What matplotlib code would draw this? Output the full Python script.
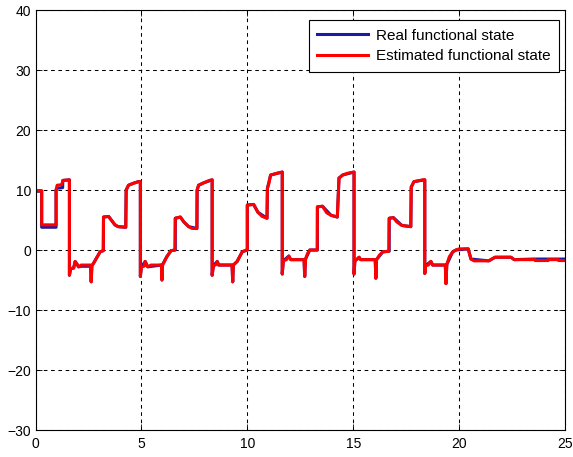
import matplotlib
matplotlib.use('Agg')
import matplotlib.pyplot as plt

plt.close('all')

# estimated functional state (red)
t_est = [0, 0.29, 0.29, 0.97, 0.97, 1.02, 1.24, 1.29, 1.6,
         1.6, 1.66, 1.8, 1.87, 1.95, 2.03, 2.15, 2.6, 2.63, 2.66, 2.74, 2.9, 3.05, 3.2, 3.21, 3.45, 3.6, 3.75, 3.9, 4.26, 4.28, 4.39, 4.6, 4.86, 4.95,
         4.95, 5.0, 5.12, 5.18, 5.25, 5.3, 5.45, 5.95, 5.97, 6.0, 6.05, 6.2, 6.4, 6.58, 6.6, 6.84, 7.0, 7.23, 7.39, 7.62, 7.63, 7.7, 7.94, 8.2, 8.34,
         8.34, 8.4, 8.5, 8.58, 8.65, 9.28, 9.31, 9.34, 9.52, 9.76, 9.95, 10.0, 10.0, 10.3, 10.5, 10.7, 10.93, 10.95, 11.02, 11.1, 11.4, 11.65,
         11.65, 11.7, 11.85, 11.96, 12.05, 12.68, 12.71, 12.75, 12.84, 12.95, 13.3, 13.31, 13.55, 13.75, 13.95, 14.25, 14.33, 14.5, 14.73, 15.04,
         15.04, 15.08, 15.2, 15.28, 15.35, 16.04, 16.07, 16.1, 16.25, 16.4, 16.68, 16.7, 16.9, 17.05, 17.3, 17.72, 17.74, 17.87, 18.28, 18.38,
         18.38, 18.42, 18.55, 18.67, 18.75, 19.35, 19.38, 19.42, 19.54, 19.7, 19.85, 20.0, 20.43, 20.56, 20.7, 21.4, 21.7, 22.45, 22.6, 23.6, 23.6, 24.2, 24.2, 24.7, 24.7, 25]
y_est = [9.9, 9.9, 4.2, 4.2, 10.0, 10.8, 10.9, 11.6, 11.7,
         -4.2, -3.1, -3.0, -1.9, -2.3, -2.8, -2.5, -2.5, -5.3, -2.6, -2.2, -1.2, -0.3, -0.1, 5.5, 5.6, 4.9, 4.2, 3.9, 3.8, 10.0, 10.8, 11.1, 11.4, 11.4,
         -4.4, -2.8, -2.7, -1.9, -2.6, -2.8, -2.5, -2.5, -5.0, -2.4, -2.2, -1.1, -0.1, 0.0, 5.3, 5.5, 4.7, 3.9, 3.6, 3.6, 10.0, 10.8, 11.2, 11.6, 11.7,
         -4.2, -2.6, -2.5, -1.9, -2.5, -2.5, -5.3, -2.5, -1.9, -0.3, 0.0, 0.0, 7.5, 7.6, 6.3, 5.6, 5.3, 10.3, 11.1, 12.5, 12.8, 13.0,
         -4.0, -1.8, -1.6, -1.0, -1.6, -1.6, -4.4, -1.5, -0.6, 0.0, 0.0, 7.2, 7.3, 6.2, 5.8, 5.5, 12.0, 12.5, 12.8, 13.0,
         -4.0, -1.8, -1.5, -1.2, -1.6, -1.6, -4.7, -1.6, -0.8, -0.3, -0.2, 5.3, 5.4, 4.7, 4.1, 3.9, 10.5, 11.4, 11.7, 11.7,
         -3.9, -2.6, -2.5, -1.9, -2.5, -2.5, -5.6, -2.4, -1.1, -0.3, 0.0, 0.2, 0.2, -1.5, -1.8, -1.8, -1.2, -1.2, -1.6, -1.6, -1.75, -1.75, -1.6, -1.6, -1.75, -1.75]

# real functional state (blue), mostly hidden under the red line
t_real = [0, 0.29, 0.29, 0.97, 0.97, 1.0, 1.28, 1.29, 1.6,
          1.6, 1.66, 1.8, 1.87, 1.95, 2.03, 2.15, 2.6, 2.63, 2.66, 2.74, 2.9, 3.05, 3.2, 3.21, 3.45, 3.6, 3.75, 3.9, 4.26, 4.28, 4.39, 4.6, 4.86, 4.95,
          4.95, 5.0, 5.18, 5.3, 5.95, 5.97, 6.0, 6.2, 6.4, 6.6, 6.6, 6.84, 7.0, 7.23, 7.62, 7.63, 7.7, 7.94, 8.34,
          8.34, 8.4, 8.58, 8.65, 9.28, 9.31, 9.34, 9.52, 9.76, 10.0, 10.0, 10.3, 10.5, 10.93, 10.95, 11.1, 11.65,
          11.65, 11.7, 11.96, 12.05, 12.68, 12.71, 12.75, 12.95, 13.31, 13.31, 13.55, 13.95, 14.25, 14.33, 14.5, 15.04,
          15.04, 15.08, 15.28, 15.35, 16.04, 16.07, 16.1, 16.4, 16.7, 16.7, 16.9, 17.3, 17.72, 17.74, 17.87, 18.38,
          18.38, 18.42, 18.67, 18.75, 19.35, 19.38, 19.42, 19.7, 19.85, 20.43, 20.56, 21.4, 21.7, 22.45, 22.6, 23.5, 25]
y_real = [9.8, 9.8, 3.8, 3.8, 10.0, 10.3, 10.4, 11.6, 11.7,
          -4.2, -3.1, -3.0, -1.9, -2.3, -2.8, -2.7, -2.7, -5.3, -2.6, -2.2, -1.2, -0.3, -0.1, 5.5, 5.6, 4.9, 4.2, 3.9, 3.8, 10.0, 10.8, 11.1, 11.4, 11.4,
          -4.4, -2.8, -1.9, -2.8, -2.5, -5.0, -2.4, -1.1, -0.1, 0.0, 5.3, 5.5, 4.7, 3.9, 3.6, 10.0, 10.8, 11.2, 11.7,
          -4.2, -2.6, -1.9, -2.5, -2.5, -5.3, -2.5, -1.9, -0.3, 0.0, 7.5, 7.6, 6.3, 5.3, 10.3, 12.5, 13.0,
          -4.0, -1.8, -1.0, -1.6, -1.6, -4.4, -1.5, 0.0, 0.0, 7.2, 7.3, 5.8, 5.5, 12.0, 12.5, 13.0,
          -4.0, -1.8, -1.2, -1.6, -1.6, -4.7, -1.6, -0.3, -0.2, 5.3, 5.4, 4.1, 3.9, 10.5, 11.4, 11.7,
          -3.9, -2.6, -1.9, -2.5, -2.5, -5.6, -2.4, -0.3, 0.0, 0.2, -1.5, -1.8, -1.2, -1.2, -1.6, -1.5, -1.5]

x_ticks = [0, 5, 10, 15, 20, 25]
y_ticks = [-30, -20, -10, 0, 10, 20, 30, 40]

plt.rcParams['font.family'] = ['Liberation Sans', 'DejaVu Sans']

fig = plt.figure(figsize=(5.73, 4.57), dpi=100, facecolor='w')
ax = fig.add_axes([0.062, 0.059, 0.924, 0.919])

ax.plot(t_real, y_real, color='#1a1aa6', linewidth=2.2, label='Real functional state')
ax.plot(t_est, y_est, color='#ff0000', linewidth=2.2, label='Estimated functional state')

ax.set_xlim(0, 25)
ax.set_ylim(-30, 40)
ax.set_xticks(x_ticks)
ax.set_yticks(y_ticks)
ax.grid(True, color='k', linestyle=(0, (3.5, 3.5)), linewidth=0.75)
ax.tick_params(direction='in', length=4, top=True, right=True, labelsize=10, width=0.6, pad=3)
ax.tick_params(axis='x', pad=5)
for sp in ax.spines.values():
    sp.set_linewidth(0.8)

leg = ax.legend(loc='upper right', bbox_to_anchor=(0.989, 0.976), borderaxespad=0,
                fontsize=11, fancybox=False, framealpha=1, edgecolor='k',
                handlelength=3.3, handletextpad=0.55, borderpad=0.55, labelspacing=0.45)
leg.get_frame().set_linewidth(0.8)

fig.savefig('out.png', dpi=100)
